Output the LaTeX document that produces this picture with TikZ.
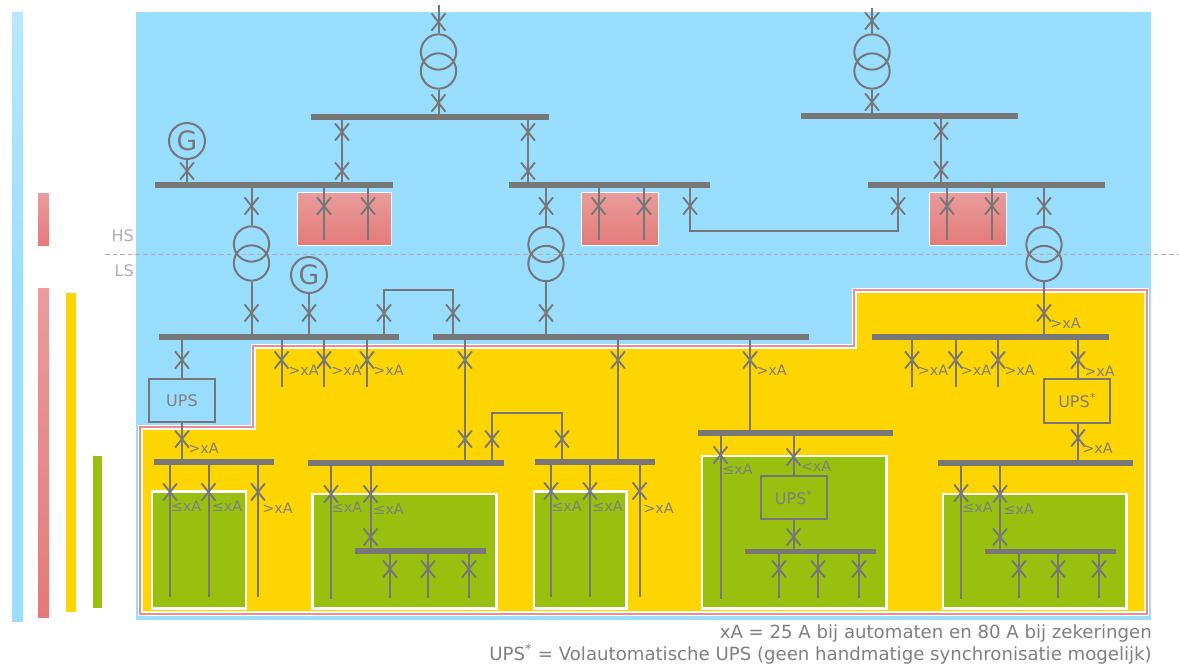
\documentclass[tikz,border=0pt]{standalone}
\usepackage{fontspec}
\setmainfont{DejaVu Sans}
\usetikzlibrary{shapes.misc}
\definecolor{cblue}{HTML}{99DDFF}
\definecolor{cbluet}{HTML}{B8E8FF}
\definecolor{credt}{HTML}{E99C9C}
\definecolor{credb}{HTML}{E57A7A}
\definecolor{cpink}{HTML}{E89090}
\definecolor{cyel}{HTML}{FFD500}
\definecolor{cgrn}{HTML}{99BF0F}
\definecolor{cwire}{HTML}{777777}
\definecolor{clab}{HTML}{808080}
\definecolor{chs}{HTML}{B0B0B0}
\tikzset{
  wire/.style={draw=cwire,line width=1.5pt},
  busbar/.style={rectangle,fill=cwire,inner sep=0pt,minimum height=4.4pt},
  breaker/.style={cross out,draw=cwire,line width=1.4pt,inner sep=0pt,minimum width=9pt,minimum height=11.5pt},
  trafo/.style={circle,draw=cwire,line width=1.5pt,inner sep=0pt,minimum size=26.5pt},
  gen/.style={circle,draw=cwire,line width=1.5pt,inner sep=0pt,minimum size=27pt,text=cwire,font=\fontsize{20}{20}\selectfont},
  upsbox/.style={rectangle,draw=cwire,line width=1.5pt,inner sep=0pt,minimum width=49.5pt,minimum height=32.5pt,text=clab,font=\fontsize{12}{14}\selectfont},
  rate/.style={anchor=west,inner sep=0pt,text=clab,font=\fontsize{10.8}{12}\selectfont},
  side/.style={anchor=east,inner sep=0pt,text=chs,font=\fontsize{12}{14}\selectfont},
  note/.style={anchor=east,inner sep=0pt,text=clab,font=\fontsize{13.6}{15}\selectfont},
  greenbox/.style={fill=cgrn,draw=white,line width=1.8pt},
  redbox/.style={top color=credt,bottom color=credb,draw=white,line width=.75pt},
}
\newcommand\Bus[4]{\node[busbar,minimum width={(#4-#3)*0.75pt}] (#1) at ({(#3+#4)/2},#2) {};}
\newcommand\Brk[3]{\node[breaker] (#1) at (#2,#3) {};}
% tap from a bus through a breaker to a free end
\newcommand\Tap[5]{\Brk{#1}{#2}{#3}\coordinate (#1e) at (#2,#5);\draw[wire] (#1 |- #4.center) -- (#1e);}
% link between two nodes through one breaker
\newcommand\Thru[5]{\Brk{#1}{#2}{#3}\draw[wire] (#1 |- #4) -- (#1 |- #5);}
% link between two nodes through two breakers
\newcommand\ThruTwo[6]{\Brk{#1}{#2}{#3}\Brk{#1b}{#2}{#4}\draw[wire] (#1 |- #5) -- (#1.center) -- (#1b.center) -- (#1b |- #6);}
\newcommand\Rate[3]{\node[rate] (#1) at (#2) {#3};}
\begin{document}
\begin{tikzpicture}[x=0.75pt,y=-0.75pt]
\useasboundingbox (0,0) rectangle (1179,664);
\fill[white] (0,0) rectangle (1179,664);
% legend bars
\shade[top color=cbluet,bottom color=cblue,middle color=cblue] (12,12) rectangle (23,621);
\shade[top color=credt,bottom color=credb] (38,193) rectangle (49,245);
\shade[top color=credt,bottom color=credb] (38,288) rectangle (49,617);
\fill[cyel] (66,293) rectangle (76,612);
\fill[cgrn] (93,456) rectangle (102,608);
% areas
\fill[cblue] (136,12) rectangle (1151,620);
\def\zone{(143,430) -- (256,430) -- (256,349) -- (857,349) -- (857,293) -- (1144,293) -- (1144,611) -- (143,611) -- cycle}
\draw[white,line width=8.2pt,miter limit=10] \zone;
\draw[cpink,line width=6.2pt,miter limit=10] \zone;
\draw[white,line width=3pt,miter limit=10] \zone;
\fill[cyel] \zone;
\draw[greenbox] (152,491.5) rectangle (246,608.5);
\draw[greenbox] (312.5,494) rectangle (496.5,608.5);
\draw[greenbox] (534,491.5) rectangle (626.5,608.5);
\draw[greenbox] (702,456) rectangle (886.5,608.5);
\draw[greenbox] (943,494) rectangle (1126.5,608.5);
\draw[redbox] (297.5,192.5) rectangle (391.5,245);
\draw[redbox] (581.5,192.5) rectangle (658.5,245);
\draw[redbox] (929.5,192.5) rectangle (1006.5,245);
% HS / LS
\draw[chs,line width=.75pt,dash pattern=on 3.5pt off 2.2pt] (105,254) -- (1179,254);
\node[side] (hs) at (134,236) {HS};
\node[side] (ls) at (134,271) {LS};
% symbols
\node[trafo] (t1a) at (438.5,52) {};\node[trafo] (t1b) at (438.5,71) {};
\node[trafo] (t2a) at (872,52) {};\node[trafo] (t2b) at (872,71) {};
\node[trafo] (t3a) at (251.5,244) {};\node[trafo] (t3b) at (251.5,263) {};
\node[trafo] (t4a) at (546,244.5) {};\node[trafo] (t4b) at (546,263.5) {};
\node[trafo] (t5a) at (1044,244.5) {};\node[trafo] (t5b) at (1044,263.5) {};
\node[gen] (g1) at (187,141) {G};
\node[gen] (g2) at (309,275) {G};
\node[upsbox] (u1) at (182,400.5) {UPS};
\node[upsbox] (u2) at (1077,401) {UPS\textsuperscript{*}};
\node[upsbox] (u3) at (793.7,497.5) {UPS\textsuperscript{*}};
% busbars
\Bus{b1}{117}{311}{549}
\Bus{b2}{116}{801}{1018}
\Bus{b3}{185}{155}{392.5}
\Bus{b4}{185}{509}{710}
\Bus{b5}{185}{868}{1105}
\Bus{b6}{337}{159}{399}
\Bus{b7}{337}{433}{809}
\Bus{b8}{337}{872}{1109}
\Bus{b9}{462}{154}{274}
\Bus{b10}{463}{308}{504}
\Bus{b11}{462}{535}{655}
\Bus{b12}{433}{698}{893}
\Bus{b13}{463}{938}{1133}
\Bus{b14}{551}{355}{486}
\Bus{b15}{551.5}{745}{876}
\Bus{b16}{551.5}{985}{1116}
% incoming
\coordinate (in1) at (438.5,5);\coordinate (in2) at (872,8);
\Brk{q1}{438.5}{22}\draw[wire] (in1) -- (t1a.north);
\Brk{q2}{438.5}{103}\draw[wire] (t1b.south) -- (q2 |- b1.center);
\Brk{q3}{872}{21}\draw[wire] (in2) -- (t2a.north);
\Brk{q4}{872}{102}\draw[wire] (t2b.south) -- (q4 |- b2.center);
% level links
\ThruTwo{q5}{342}{132}{171}{b1.center}{b3.center}
\ThruTwo{q6}{528}{132}{171}{b1.center}{b4.center}
\ThruTwo{q7}{941}{131}{170}{b2.center}{b5.center}
\Brk{q8}{187}{171}\draw[wire] (g1.south) -- (q8 |- b3.center);
\Brk{q9}{309}{313}\draw[wire] (g2.south) -- (q9 |- b6.center);
% transformers to bars
\Brk{q10}{251.5}{206}\draw[wire] (q10 |- b3.center) -- (t3a.north);
\Brk{q11}{251.5}{313}\draw[wire] (t3b.south) -- (q11 |- b6.center);
\Brk{q12}{546}{206}\draw[wire] (q12 |- b4.center) -- (t4a.north);
\Brk{q13}{546}{313}\draw[wire] (t4b.south) -- (q13 |- b7.center);
\Brk{q14}{1044}{206}\draw[wire] (q14 |- b5.center) -- (t5a.north);
\Brk{q15}{1044}{313}\draw[wire] (t5b.south) -- (q15 |- b8.center);
% high-voltage taps in red boxes
\Tap{r1}{324}{206}{b3}{240}
\Tap{r2}{368}{206}{b3}{240}
\Tap{r3}{598.5}{206}{b4}{240}
\Tap{r4}{644}{206}{b4}{240}
\Tap{r5}{947}{206}{b5}{240}
\Tap{r6}{992}{206}{b5}{240}
% cross links
\Brk{c1}{690}{206}\Brk{c2}{898}{206}
\coordinate (c1d) at (690,231);
\draw[wire] (c1 |- b4.center) -- (c1d) -- (c1d -| c2) -- (c2 |- b5.center);
\Brk{c3}{384}{313}\Brk{c4}{453}{313}
\coordinate (c3d) at (384,290);
\draw[wire] (c3 |- b6.center) -- (c3d) -- (c3d -| c4) -- (c4 |- b7.center);
\Brk{c5}{492}{439}\Brk{c6}{562}{439}
\coordinate (c5d) at (492,413);
\draw[wire] (c5 |- b10.center) -- (c5d) -- (c5d -| c6) -- (c6 |- b11.center);
% UPS feeders
\Brk{d1}{182}{360}\draw[wire] (d1 |- b6.center) -- (u1.north -| d1);
\Brk{d2}{182}{439}\draw[wire] (u1.south -| d2) -- (d2 |- b9.center);
\Brk{d3}{1078}{360}\draw[wire] (d3 |- b8.center) -- (u2.north -| d3);
\Brk{d4}{1078}{438}\draw[wire] (u2.south -| d4) -- (d4 |- b13.center);
\Brk{d5}{793.5}{457}\draw[wire] (d5 |- b12.center) -- (u3.north -| d5);
\Brk{d6}{793.5}{537}\draw[wire] (u3.south -| d6) -- (d6 |- b15.center);
% low-voltage taps
\Tap{e1}{281.5}{360}{b6}{387}
\Tap{e2}{324}{360}{b6}{387}
\Tap{e3}{367}{360}{b6}{387}
\Tap{e4}{912}{360}{b8}{387}
\Tap{e5}{955.5}{360}{b8}{387}
\Tap{e6}{998}{360}{b8}{387}
% bar to bar
\ThruTwo{f1}{465}{360}{439}{b7.center}{b10.center}
\Thru{f2}{618}{360}{b7.center}{b11.center}
\Thru{f3}{750}{360}{b7.center}{b12.center}
\ThruTwo{f4}{370.5}{494}{537}{b10.center}{b14.center}
\ThruTwo{f5}{1000}{494}{537}{b13.center}{b16.center}
% final taps
\Tap{h1}{170}{492}{b9}{597}
\Tap{h2}{208.5}{492}{b9}{597}
\Tap{h3}{258}{492}{b9}{597}
\Tap{h4}{331}{494}{b10}{599}
\Tap{h5}{551}{491}{b11}{597}
\Tap{h6}{590}{491}{b11}{597}
\Tap{h7}{639.5}{491}{b11}{597}
\Tap{h8}{720.5}{455}{b12}{599}
\Tap{h9}{961}{493}{b13}{599}
\Tap{k1}{390}{569}{b14}{598}
\Tap{k2}{428}{569}{b14}{598}
\Tap{k3}{469}{569}{b14}{598}
\Tap{k4}{779}{569}{b15}{598}
\Tap{k5}{818}{569}{b15}{598}
\Tap{k6}{859}{569}{b15}{598}
\Tap{k7}{1019}{569}{b16}{598}
\Tap{k8}{1058}{569}{b16}{598}
\Tap{k9}{1099}{569}{b16}{598}
% ratings
\Rate{l1}{288,370}{>xA}
\Rate{l2}{331,370}{>xA}
\Rate{l3}{373,370}{>xA}
\Rate{l4}{188,448}{>xA}
\Rate{l5}{756,370}{>xA}
\Rate{l6}{1050,323.5}{>xA}
\Rate{l7}{917.5,370}{>xA}
\Rate{l8}{960.5,370}{>xA}
\Rate{l9}{1004,370}{>xA}
\Rate{l10}{1084,371}{>xA}
\Rate{l11}{1082,448}{>xA}
\Rate{l12}{170.5,506}{≤xA}
\Rate{l13}{211.5,506}{≤xA}
\Rate{l14}{262,508}{>xA}
\Rate{l15}{331.5,507}{≤xA}
\Rate{l16}{373,509}{≤xA}
\Rate{l17}{551,506}{≤xA}
\Rate{l18}{592,506}{≤xA}
\Rate{l19}{643,508}{>xA}
\Rate{l20}{722,469}{≤xA}
\Rate{l21}{800.5,466}{<xA}
\Rate{l22}{962,507}{≤xA}
\Rate{l23}{1003,509}{≤xA}
% notes
\node[note] (n1) at (1152,633) {xA = 25 A bij automaten en 80 A bij zekeringen};
\node[note] (n2) at (1152,654) {UPS\textsuperscript{*} = Volautomatische UPS (geen handmatige synchronisatie mogelijk)};
\end{tikzpicture}
\end{document}
